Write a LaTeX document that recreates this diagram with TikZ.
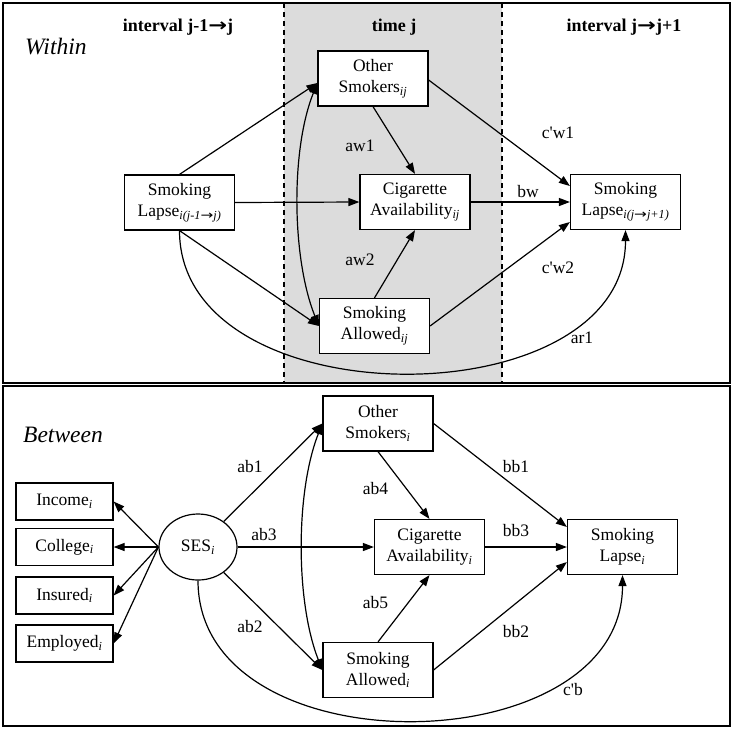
\documentclass[tikz,border=0pt]{standalone}
\usepackage{fontspec}
\usepackage{graphicx}
\setmainfont{Liberation Serif}[Ligatures=TeXOff]
\newfontfamily\arrfont{DejaVu Sans}
\newcommand\rarr{\scalebox{1.25}[1]{\arrfont →}}
\usetikzlibrary{arrows.meta,shapes.geometric}
\newcommand\lab{\fontsize{17.5}{21}\selectfont}
\newcommand\hdr{\fontsize{18}{21}\selectfont\bfseries}
\newcommand\bigital{\fontsize{23.5}{27}\selectfont\itshape}
\definecolor{shadegray}{RGB}{220,220,220}
\tikzset{
  box/.style={draw, line width=1.2pt, fill=white, minimum width=110pt, minimum height=55pt, align=center, inner sep=0pt, font=\lab},
  sbox/.style={draw, line width=1.2pt, fill=white, minimum width=97pt, minimum height=37pt, inner sep=0pt, font=\lab},
  sesnode/.style={draw, ellipse, line width=1.2pt, fill=white, minimum width=78pt, minimum height=66pt, inner sep=0pt, font=\lab},
  arr/.style={line width=1.2pt, -{Triangle[length=11pt,width=8pt]}},
  dbl/.style={line width=1.2pt, {Triangle[length=11pt,width=8pt]}-{Triangle[length=11pt,width=8pt]}},
  lbl/.style={font=\lab, inner sep=0pt},
  frame/.style={line width=1.4pt},
  divider/.style={line width=1.4pt, dash pattern=on 5pt off 4pt}
}
\begin{document}
\begin{tikzpicture}[x=1pt,y=-1pt]
\useasboundingbox (0,0) rectangle (733,729);
% top panel background
\fill[shadegray] (284,3) rectangle (502,383);
\draw[divider] (284,3) -- (284,383);
\draw[divider] (502,3) -- (502,383);
\draw[frame] (3,3) rectangle (730,383);
\draw[frame] (3,386) rectangle (730,726);

% headers
\node[font=\hdr, anchor=base, inner sep=0pt] (h1) at (178,31) {interval j-1\rarr j};
\node[font=\hdr, anchor=base, inner sep=0pt] (h2) at (394,31) {time j};
\node[font=\hdr, anchor=base, inner sep=0pt] (h3) at (624,31) {interval j\rarr j+1};
\node[font=\bigital, anchor=base west, inner sep=0pt] (within) at (25,54) {Within};
\node[font=\bigital, anchor=base west, inner sep=0pt] (between) at (23,442) {Between};

% within nodes
\node[box] (lap1) at (179.5,202.5) {Smoking\\Lapse\textsubscript{\textit{i(j-1\rarr j)}}};
\node[box] (oth1) at (373,78.5) {Other\\Smokers\textsubscript{\textit{ij}}};
\node[box] (cig1) at (415,202) {Cigarette\\Availability\textsubscript{\textit{ij}}};
\node[box] (all1) at (374.5,326) {Smoking\\Allowed\textsubscript{\textit{ij}}};
\node[box] (lap2) at (625.5,202) {Smoking\\Lapse\textsubscript{\textit{i(j\rarr j+1)}}};

% within edges
\draw[arr] (lap1.north) -- ([yshift=-4.5pt]oth1.west);
\draw[arr] (lap1.east) -- (cig1.west);
\draw[arr] (lap1.south) -- (all1.west);
\draw[dbl] ([yshift=-4.5pt]oth1.west) .. controls +(-27,67) and +(-27,-67) .. (all1.west);
\draw[arr] (oth1.south) -- (cig1.north);
\draw[arr] (all1.north) -- (cig1.south);
\draw[arr] ([yshift=-1.5pt]oth1.east) -- ([yshift=16pt]lap2.west);
\draw[arr] (cig1.east) -- (lap2.west);
\draw[arr] (all1.east) -- ([yshift=-20pt]lap2.west);
\draw[arr] (lap1.south) .. controls +(0,190) and +(0,190) .. (lap2.south);

% within labels
\node[lbl] (aw1) at (360,146) {aw1};
\node[lbl] (aw2) at (360,260) {aw2};
\node[lbl] (cw1) at (558,133) {c'w1};
\node[lbl] (bw) at (528,192) {bw};
\node[lbl] (cw2) at (558,268) {c'w2};
\node[lbl] (ar1) at (582,338) {ar1};

% between nodes
\node[box] (oth2) at (378,423.5) {Other\\Smokers\textsubscript{\textit{i}}};
\node[box] (cig2) at (429.5,547) {Cigarette\\Availability\textsubscript{\textit{i}}};
\node[box] (all2) at (378,670) {Smoking\\Allowed\textsubscript{\textit{i}}};
\node[box] (lap3) at (622.5,547) {Smoking\\Lapse\textsubscript{\textit{i}}};
\node[sesnode] (ses) at (198,547) {SES\textsubscript{\textit{i}}};
\node[sbox] (inc) at (64.5,501.5) {Income\textsubscript{\textit{i}}};
\node[sbox] (col) at (64.5,547) {College\textsubscript{\textit{i}}};
\node[sbox] (ins) at (64.5,595.5) {Insured\textsubscript{\textit{i}}};
\node[sbox] (emp) at (64.5,643.5) {Employed\textsubscript{\textit{i}}};

% between edges
\draw[arr] (ses.west) -- (inc.east);
\draw[arr] (ses.west) -- (col.east);
\draw[arr] (ses.west) -- (ins.east);
\draw[arr] (ses.west) -- (emp.east);
\draw[arr] (ses) -- (oth2.west);
\draw[arr] (ses.east) -- (cig2.west);
\draw[arr] (ses) -- (all2.west);
\draw[dbl] (oth2.west) .. controls +(-27,68) and +(-27,-68) .. (all2.west);
\draw[arr] (oth2.south) -- (cig2.north);
\draw[arr] (all2.north) -- (cig2.south);
\draw[arr] (oth2.east) -- ([yshift=20pt]lap3.west);
\draw[arr] (cig2.east) -- (lap3.west);
\draw[arr] (all2.east) -- ([yshift=-15pt]lap3.west);
\draw[arr] (ses.south) .. controls +(0,190) and +(0,190) .. (lap3.south);

% between labels
\node[lbl] (ab1) at (250,467) {ab1};
\node[lbl] (ab3) at (264,535) {ab3};
\node[lbl] (ab2) at (250,627) {ab2};
\node[lbl] (ab4) at (375.5,489) {ab4};
\node[lbl] (ab5) at (375.5,603) {ab5};
\node[lbl] (bb1) at (516,467) {bb1};
\node[lbl] (bb3) at (516,531) {bb3};
\node[lbl] (bb2) at (516,632) {bb2};
\node[lbl] (cb) at (573,690) {c'b};
\end{tikzpicture}
\end{document}
